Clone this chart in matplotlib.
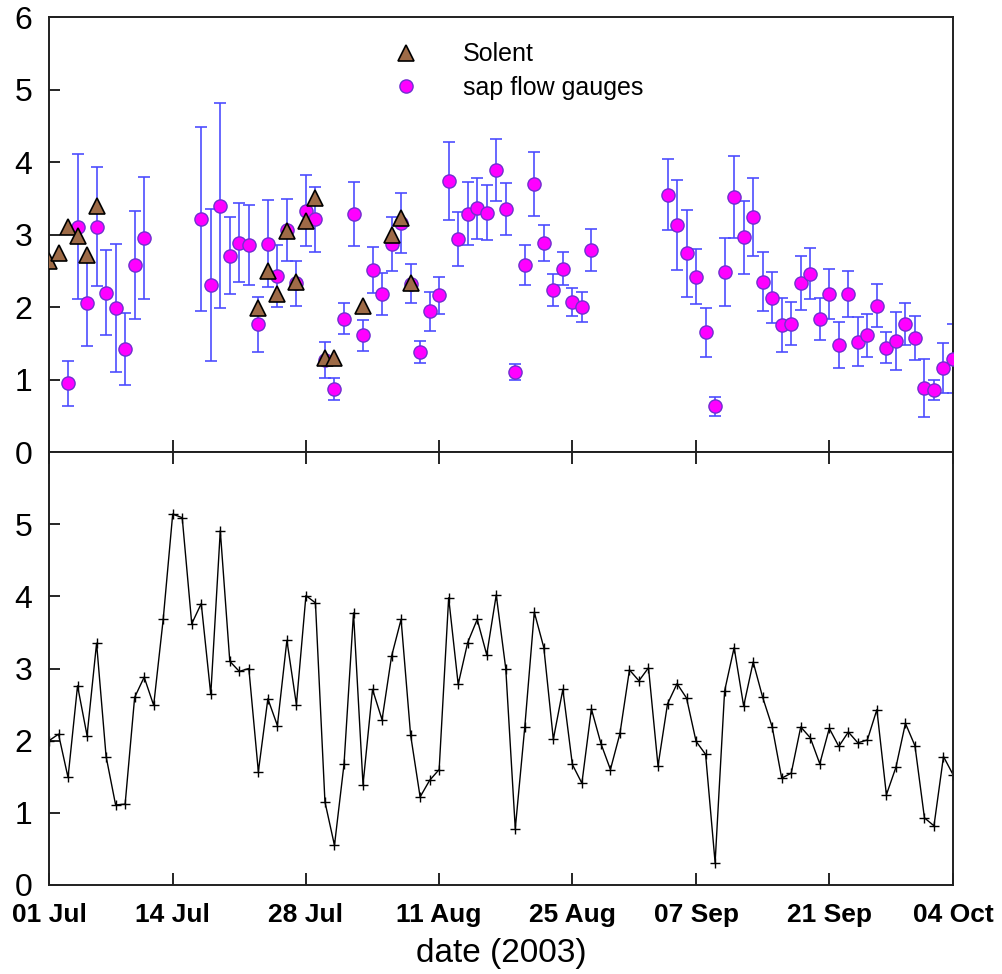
import datetime as DT
import numpy as np
import matplotlib
matplotlib.use('Agg')
from matplotlib import pyplot as plt
import matplotlib.dates as mdates

plt.rcParams['font.family'] = ['Liberation Sans', 'DejaVu Sans']

START = DT.datetime(2003, 7, 1)

# Solent estimates (day offset from 01 Jul, value)
solent_day = [0, 1, 2, 3, 4, 5, 22, 23, 24, 25, 26, 27, 28, 29, 30, 33, 36, 37, 38]
solent_val = [2.63, 2.75, 3.10, 2.98, 2.72, 3.39, 1.99, 2.50, 2.18, 3.05, 2.35, 3.19,
              3.51, 1.30, 1.30, 2.01, 2.99, 3.23, 2.33]

# sap flow gauges (day offset, mean, error)
sap_day = [2, 3, 4, 5, 6, 7, 8, 9, 10,
           16, 17, 18, 19, 20, 21, 22, 23, 24, 25, 26, 27, 28, 29, 30,
           31, 32, 33, 34, 35, 36, 37, 38, 39, 40, 41, 42, 43, 44, 45, 46, 47, 48,
           49, 50, 51, 52, 53, 54, 55, 56, 57,
           65, 66, 67, 68, 69, 70, 71, 72, 73, 74, 75, 76, 77, 78, 79, 80,
           81, 82, 83, 84, 85, 86, 87, 88, 89, 90, 91, 92, 93, 94, 95]
sap_val = [0.95, 3.11, 2.05, 3.11, 2.20, 1.99, 1.42, 2.58, 2.95,
           3.21, 2.30, 3.40, 2.71, 2.89, 2.86, 1.76, 2.87, 2.43, 3.06, 2.33, 3.33, 3.21, 1.27, 0.87,
           1.84, 3.28, 1.61, 2.51, 2.18, 2.87, 3.16, 2.32, 1.38, 1.94, 2.16, 3.74, 2.94, 3.29, 3.36, 3.30, 3.89, 3.35,
           1.11, 2.58, 3.70, 2.88, 2.24, 2.53, 2.07, 2.00, 2.79,
           3.55, 3.13, 2.74, 2.42, 1.65, 0.63, 2.48, 3.52, 2.96, 3.24, 2.35, 2.13, 1.75, 1.77, 2.33, 2.46,
           1.84, 2.18, 1.48, 2.18, 1.52, 1.61, 2.02, 1.44, 1.53, 1.77, 1.57, 0.89, 0.86, 1.16, 1.29]
sap_err = [0.31, 1.00, 0.59, 0.82, 0.59, 0.88, 0.50, 0.74, 0.84,
           1.27, 1.05, 1.41, 0.53, 0.55, 0.55, 0.38, 0.60, 0.43, 0.43, 0.31, 0.49, 0.45, 0.25, 0.15,
           0.21, 0.44, 0.21, 0.32, 0.29, 0.37, 0.41, 0.27, 0.15, 0.27, 0.26, 0.54, 0.37, 0.44, 0.42, 0.38, 0.43, 0.36,
           0.11, 0.27, 0.44, 0.25, 0.22, 0.23, 0.19, 0.21, 0.29,
           0.49, 0.62, 0.60, 0.38, 0.34, 0.13, 0.47, 0.57, 0.50, 0.54, 0.41, 0.35, 0.375, 0.30, 0.37, 0.35,
           0.29, 0.35, 0.32, 0.32, 0.34, 0.30, 0.30, 0.21, 0.40, 0.29, 0.30, 0.40, 0.14, 0.34, 0.47]

# lower panel: daily series 01 Jul .. 04 Oct
daily_val = [2.00, 2.09, 1.49, 2.76, 2.07, 3.35, 1.78, 1.11, 1.12, 2.60,
             2.88, 2.49, 3.68, 5.14, 5.09, 3.62, 3.90, 2.64, 4.91, 3.10,
             2.96, 3.00, 1.57, 2.58, 2.21, 3.39, 2.50, 4.01, 3.91, 1.15,
             0.55, 1.67, 3.77, 1.39, 2.71, 2.29, 3.17, 3.68, 2.08, 1.22,
             1.45, 1.60, 3.98, 2.78, 3.36, 3.68, 3.19, 4.02, 3.00, 0.78,
             2.19, 3.78, 3.29, 2.02, 2.71, 1.67, 1.41, 2.44, 1.96, 1.60,
             2.10, 2.98, 2.83, 3.01, 1.65, 2.51, 2.79, 2.59, 1.99, 1.81,
             0.31, 2.69, 3.29, 2.48, 3.09, 2.60, 2.19, 1.48, 1.55, 2.19,
             2.04, 1.68, 2.17, 1.92, 2.12, 1.97, 2.01, 2.43, 1.25, 1.63,
             2.24, 1.93, 0.93, 0.82, 1.78, 1.53]

tick_dates = ['2003-07-01', '2003-07-14', '2003-07-28', '2003-08-11',
              '2003-08-25', '2003-09-07', '2003-09-21', '2003-10-04']


def to_dates(days):
    return [START + DT.timedelta(days=d) for d in days]


x_sol = to_dates(solent_day)
x_sap = to_dates(sap_day)
x_daily = to_dates(range(len(daily_val)))
x_ticks = [DT.datetime.strptime(t, '%Y-%m-%d') for t in tick_dates]

fig = plt.figure(figsize=(10.02, 9.74), dpi=100)
ax1 = fig.add_axes([0.0489, 0.5359, 0.9022, 0.4466])
ax2 = fig.add_axes([0.0489, 0.0914, 0.9022, 0.4445], sharex=ax1)

# top panel
ax1.errorbar(x_sap, sap_val, yerr=sap_err, fmt='none', ecolor='#4a4aff',
             elinewidth=1.3, capsize=4, capthick=1.3, alpha=0.9, zorder=2)
ax1.plot(x_sap, sap_val, 'o', color='#ff00ff', markeredgecolor='#7030d0',
         markersize=9.5, markeredgewidth=1, label='sap flow gauges', zorder=3)
ax1.plot(x_sol, solent_val, '^', color='#9e6b47', markeredgecolor='k',
         markersize=11, markeredgewidth=1.2, label='Solent', zorder=4)

h, l = ax1.get_legend_handles_labels()
ax1.legend(h[::-1], l[::-1], loc='upper left', bbox_to_anchor=(0.367, 0.942),
           frameon=False, fontsize=18, handletextpad=1.3, labelspacing=0.38,
           borderpad=0, borderaxespad=0)

ax1.set_ylim(0, 6)
ax1.set_yticks(range(0, 7))

# bottom panel
ax2.plot(x_daily, daily_val, '-', color='k', linewidth=1.0, marker='+',
         markersize=7, markeredgewidth=1.0)
ax2.set_ylim(0, 6)
ax2.set_yticks(range(0, 6))

ax2.set_xlim(START, START + DT.timedelta(days=95))
ax2.set_xticks(x_ticks)
ax2.xaxis.set_major_formatter(mdates.DateFormatter('%d %b'))

for ax in (ax1, ax2):
    for s in ax.spines.values():
        s.set_linewidth(1.4)
        s.set_color('#202020')
    ax.tick_params(axis='y', direction='in', length=8, width=1.2, labelsize=23, pad=12,
                   left=True, right=False)
    ax.tick_params(axis='x', direction='in', length=8.5, width=1.2)

ax1.tick_params(axis='x', bottom=True, top=False, labelbottom=False)
ax2.tick_params(axis='x', bottom=True, top=True, labelsize=19, pad=13)
for lab in ax2.get_xticklabels():
    lab.set_fontweight('bold')

ax2.set_xlabel('date (2003)', fontsize=24, labelpad=8)

fig.savefig('out.png', dpi=100)
